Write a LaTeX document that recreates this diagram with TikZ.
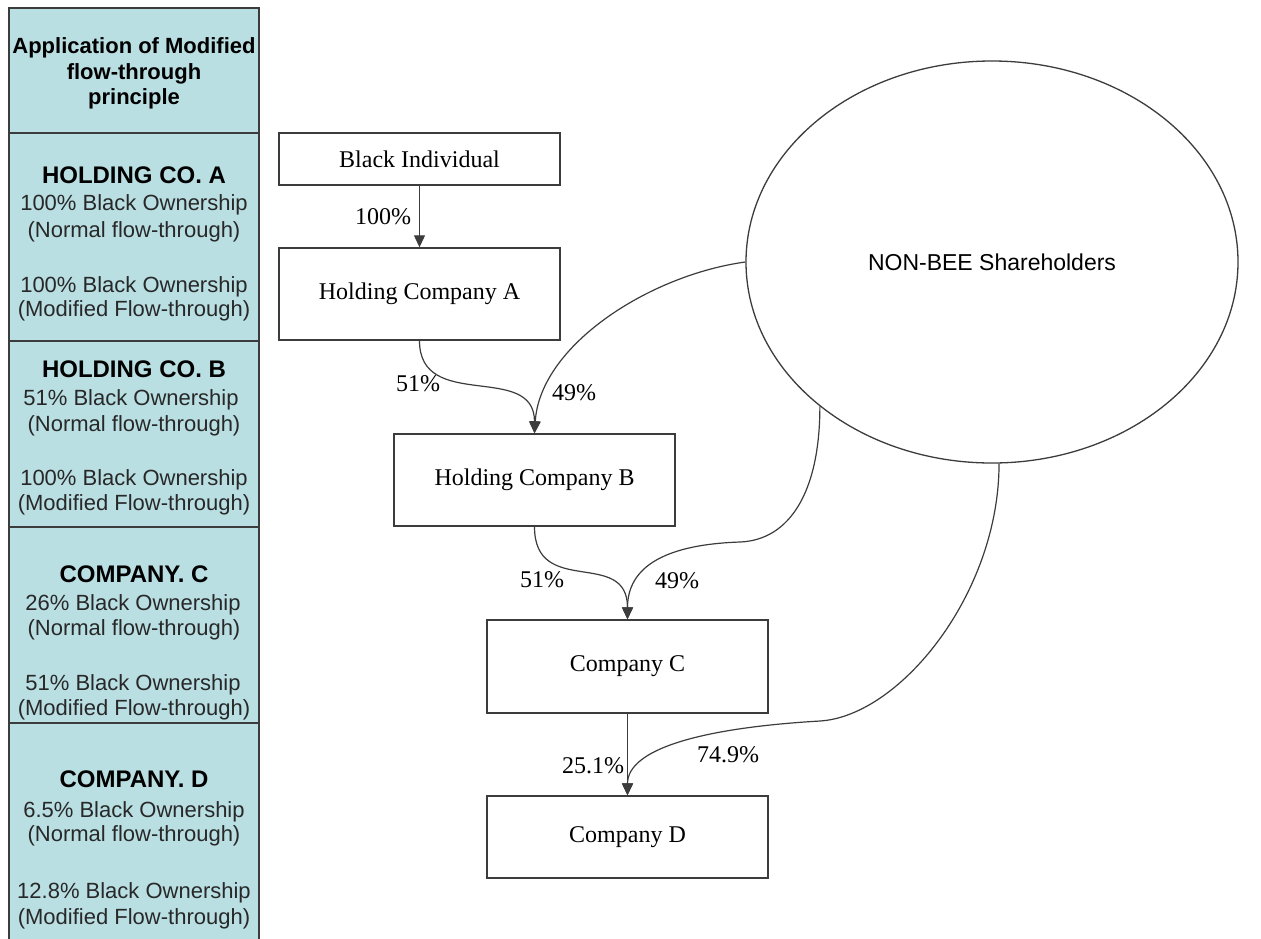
\documentclass[tikz,border=0pt]{standalone}
\usepackage{fontspec}
\setmainfont{Liberation Serif}
\setsansfont{Liberation Sans}
\usetikzlibrary{arrows.meta,shapes.geometric}
\definecolor{panelfill}{RGB}{185,223,227}
\definecolor{rulegray}{RGB}{60,60,60}
\definecolor{wiregray}{RGB}{60,60,60}
\definecolor{notegray}{RGB}{40,40,40}
\begin{document}
\begin{tikzpicture}[x=1pt,y=-1pt,
  entity/.style={draw=rulegray, line width=1.4pt, fill=white, inner sep=0pt,
    font=\fontsize{24}{28}\selectfont},
  holders/.style={ellipse, draw=rulegray, line width=1.3pt, fill=white, inner sep=0pt,
    minimum width=492pt, minimum height=402pt, font=\sffamily\fontsize{23}{27}\selectfont},
  flow/.style={draw=wiregray, line width=1.2pt, -{Triangle[length=12pt,width=11pt]}},
  pct/.style={inner sep=0pt, font=\fontsize{24}{28}\selectfont},
  paneltitle/.style={anchor=base, inner sep=0pt, font=\sffamily\bfseries\fontsize{22}{26}\selectfont},
  rowhead/.style={anchor=base, inner sep=0pt, font=\sffamily\bfseries\fontsize{24}{28}\selectfont},
  rowtext/.style={anchor=base, inner sep=0pt, text=notegray, font=\sffamily\fontsize{22}{26}\selectfont}]

% canvas
\fill[white] (0,0) rectangle (1261,938);
\useasboundingbox (0,0) rectangle (1261,938);
\clip (0,0) rectangle (1261,938);

% summary column on the left
\draw[draw=rulegray, fill=panelfill, line width=1.3pt] (9,8) rectangle (259,950);
\foreach \yy in {133,341,527,723}
  \draw[rulegray, line width=1.3pt] (9,\yy) -- (259,\yy);

\node[paneltitle] (t1) at (134,53) {Application of Modified};
\node[paneltitle] (t2) at (134,79) {flow-through};
\node[paneltitle] (t3) at (134,104) {principle};

\node[rowhead] (a0) at (134,183) {HOLDING CO. A};
\node[rowtext] (a1) at (134,210) {100\% Black Ownership};
\node[rowtext] (a2) at (134,237) {(Normal flow-through)};
\node[rowtext] (a3) at (134,292) {100\% Black Ownership};
\node[rowtext] (a4) at (134,316) {(Modified Flow-through)};

\node[rowhead] (b0) at (134,377) {HOLDING CO. B};
\node[rowtext] (b1) at (131,405) {51\% Black Ownership};
\node[rowtext] (b2) at (134,431) {(Normal flow-through)};
\node[rowtext] (b3) at (134,485) {100\% Black Ownership};
\node[rowtext] (b4) at (134,510) {(Modified Flow-through)};

\node[rowhead] (c0) at (134,582) {COMPANY. C};
\node[rowtext] (c1) at (133,610) {26\% Black Ownership};
\node[rowtext] (c2) at (134,635) {(Normal flow-through)};
\node[rowtext] (c3) at (133,690) {51\% Black Ownership};
\node[rowtext] (c4) at (134,715) {(Modified Flow-through)};

\node[rowhead] (d0) at (134,787) {COMPANY. D};
\node[rowtext] (d1) at (134,817) {6.5\% Black Ownership};
\node[rowtext] (d2) at (134,841) {(Normal flow-through)};
\node[rowtext] (d3) at (134,898) {12.8\% Black Ownership};
\node[rowtext] (d4) at (134,924) {(Modified Flow-through)};

% ownership chain
\node[entity, minimum width=281pt, minimum height=52pt] (bi) at (419.5,159) {Black Individual};
\node[entity, minimum width=281pt, minimum height=92pt] (ha) at (419.5,294) {Holding Company A};
\node[entity, minimum width=281pt, minimum height=92pt] (hb) at (534.5,480) {Holding Company B};
\node[entity, minimum width=281pt, minimum height=93pt] (cc) at (627.5,666.5) {Company C};
\node[entity, minimum width=281pt, minimum height=82pt] (cd) at (627.5,837) {Company D};
\node[holders] (ns) at (992,262) {NON-BEE Shareholders};

% shareholdings
\draw[flow] (bi.south) -- (ha.north);
\draw[flow] (ha.south) .. controls +(0,72) and +(0,-72) .. (hb.north);
\draw[flow] (ns.west) .. controls (650,275) and (540,345) .. (hb.north);
\draw[flow] (hb.south) .. controls +(0,72) and +(0,-72) .. (cc.north);
\draw[flow] (ns.220) .. controls +(0,85) and +(50,-2) .. (740,542)
                      .. controls +(-60,2) and +(0,-60) .. (cc.north);
\draw[flow] (cc.south) -- (cd.north);
\draw[flow] (ns.272) .. controls +(0,130) and +(80,-5) .. (820,721)
                      .. controls +(-120,7) and +(0,-46) .. (cd.north);

% percentages
\node[pct] (p1) at (383,217) {100\%};
\node[pct] (p2) at (418,384) {51\%};
\node[pct] (p3) at (574,393) {49\%};
\node[pct] (p4) at (542,580) {51\%};
\node[pct] (p5) at (677,581) {49\%};
\node[pct] (p6) at (593,766) {25.1\%};
\node[pct] (p7) at (728,755) {74.9\%};
\end{tikzpicture}
\end{document}
